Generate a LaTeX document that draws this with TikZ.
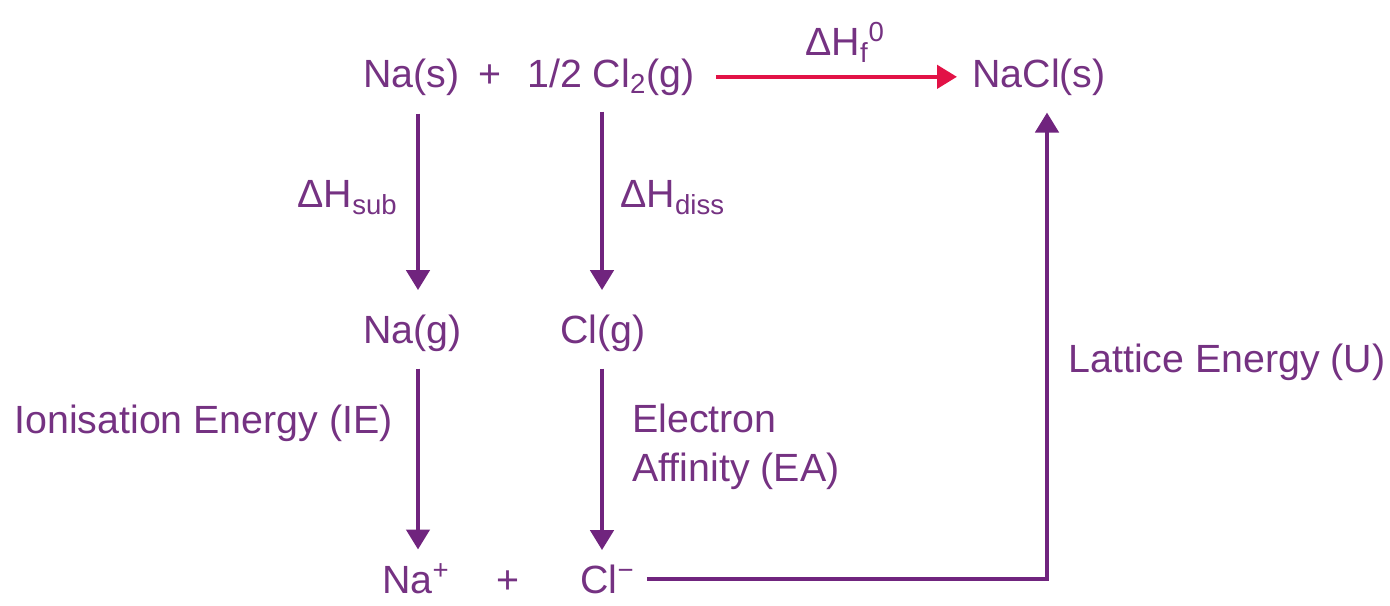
\documentclass[tikz,border=0pt]{standalone}
\usepackage{fontspec}
\setmainfont{Liberation Sans}
\usetikzlibrary{arrows.meta}
\definecolor{txtpurple}{RGB}{117,50,130}
\definecolor{linepurple}{RGB}{112,36,126}
\definecolor{formred}{RGB}{226,18,70}
\begin{document}
\begin{tikzpicture}[
  x=0.2mm, y=-0.2mm,
  every node/.style={text=txtpurple, inner sep=0pt, font=\fontsize{22.4}{27.9}\selectfont},
  flow/.style={-{Triangle[length=4mm,width=4.6mm]}, line width=0.9mm, draw=linepurple},
  formation/.style={flow, draw=formred}
]
\useasboundingbox (0,0) rectangle (1390,605);
\coordinate (colA) at (418,0);
\coordinate (colB) at (602,0);
\coordinate (colC) at (1047,0);
\node[anchor=base west] (nas) at (363,87) {Na(s)};
\node[anchor=base] (plusA) at (490,87) {+};
\node[anchor=base west] (halfcl) at (527,87) {1/2 Cl\textsubscript{2}(g)};
\node[anchor=base west] (nacl) at (972,87) {NaCl(s)};
\node[anchor=base west] (dhf) at (805,55) {ΔH\textsubscript{f}\textsuperscript{0}};
\node[anchor=base east] (dhsub) at (398,207) {ΔH\textsubscript{sub}};
\node[anchor=base west] (dhdiss) at (620,207) {ΔH\textsubscript{diss}};
\node[anchor=base west] (nag) at (363,343) {Na(g)};
\node[anchor=base west] (clg) at (560,343) {Cl(g)};
\node[anchor=base west] (ie) at (14,433) {Ionisation Energy (IE)};
\node[anchor=north west, align=left] (ea) at (632,404) {Electron\\Affinity (EA)};
\node[anchor=base west] (lattice) at (1068,372) {Lattice Energy (U)};
\node[anchor=base west] (naplus) at (382,593) {Na\textsuperscript{+}};
\node[anchor=base] (plusB) at (508,593) {+};
\node[anchor=base west] (clminus) at (580,593) {Cl\textsuperscript{−}};
\draw[formation, shorten <=4.2mm, shorten >=3mm] (halfcl.east) -- (halfcl.east -| nacl.west);
\draw[flow, shorten <=3.6mm, shorten >=4.8mm] (nas.south -| colA) -- (nag.north -| colA);
\draw[flow, shorten <=3.2mm, shorten >=4.8mm] (halfcl.south -| colB) -- (clg.north -| colB);
\draw[flow, shorten <=3.4mm, shorten >=2.8mm] (nag.south -| colA) -- (naplus.north -| colA);
\draw[flow, shorten <=3.4mm, shorten >=2.8mm] (clg.south -| colB) -- (clminus.north -| colB);
\draw[flow, shorten <=2.4mm, shorten >=3.4mm] (clminus.east) -| (nacl.south -| colC);
\end{tikzpicture}
\end{document}
